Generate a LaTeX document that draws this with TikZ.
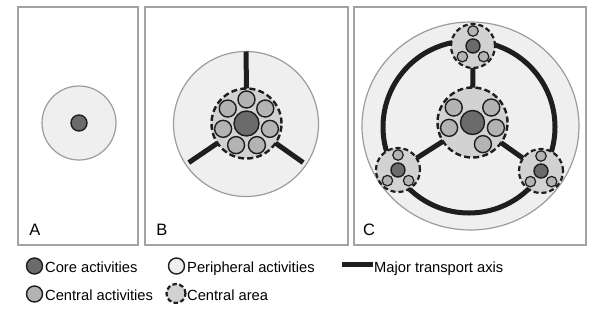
\documentclass[tikz,border=0pt]{standalone}
\usepackage{fontspec}
\setmainfont{Liberation Sans}
\usetikzlibrary{calc}
\definecolor{boxgray}{HTML}{A3A3A3}
\definecolor{outergray}{HTML}{9C9C9C}
\definecolor{areafill}{HTML}{EFEFEF}
\definecolor{cafill}{HTML}{D2D2D2}
\definecolor{centfill}{HTML}{B3B3B3}
\definecolor{corefill}{HTML}{6B6B6B}
\definecolor{ink}{HTML}{1E1E1E}
\begin{document}
\begin{tikzpicture}[x=1pt,y=-1pt,
  panel/.style={draw=boxgray,line width=1.6pt},
  outer/.style={circle,draw=outergray,fill=areafill,line width=1.2pt,inner sep=0pt,outer sep=0pt},
  carea/.style={circle,draw=ink,fill=cafill,dashed,dash pattern=on 6pt off 3.2pt,line width=2.4pt,inner sep=0pt,outer sep=0pt},
  centact/.style={circle,draw=ink,fill=centfill,line width=1.4pt,inner sep=0pt,outer sep=0pt},
  coreact/.style={circle,draw=ink,fill=corefill,line width=1.4pt,inner sep=0pt,outer sep=0pt},
  periact/.style={circle,draw=ink,fill=areafill,line width=1.4pt,inner sep=0pt,outer sep=0pt},
  axis/.style={draw=ink,line width=5pt},
  plabel/.style={font=\fontsize{16.5}{18}\selectfont,anchor=base,inner sep=0pt},
  legtext/.style={font=\fontsize{14.7}{17}\selectfont,anchor=base west,inner sep=0pt}
]
\useasboundingbox (0,0) rectangle (602,314);
\fill[white] (0,0) rectangle (602,314);

% panels
\draw[panel] (18,7) rectangle (138,245);
\draw[panel] (145,7) rectangle (348,245);
\draw[panel] (354,7) rectangle (586,245);
\node[plabel] (la) at (35,235) {A};
\node[plabel] (lb) at (162,235) {B};
\node[plabel] (lc) at (369,235) {C};

% panel A
\node[outer,minimum size=74pt] (aout) at (79,123) {};
\node[coreact,minimum size=16pt] (acore) at (79,123) {};

% panel B
\node[outer,minimum size=145pt] (bout) at (246,124) {};
\node[carea,minimum size=70pt] (bca) at (246.5,123.5) {};
\node[coreact,minimum size=25pt] (bcore) at (246.5,123.5) {};
\foreach \i in {0,...,6}{
  \node[centact,minimum size=17pt] (b\i) at ($(bcore.center)+(90-\i*51.43:24pt)$) {};
}
\coordinate (bsl) at ($(bout.center)+(214:69pt)$);
\coordinate (bsr) at ($(bout.center)+(-34:69pt)$);
\draw[axis] (bca.90) -- (bout.90);
\draw[axis] (bca.214) -- (bsl);
\draw[axis] (bca.-34) -- (bsr);

% panel C
\draw[draw=outergray,fill=areafill,line width=1.2pt] (470.5,126) circle[x radius=108.5pt,y radius=104pt];
\draw[axis] (469,127) circle[radius=86pt];
\node[carea,minimum size=70pt] (cca) at (472.5,122.5) {};
\node[coreact,minimum size=24pt] (ccore) at (472.5,122.5) {};
\foreach \i in {1,2,3,5,6}{
  \node[centact,minimum size=17pt] (c\i) at ($(ccore.center)+(90-\i*51.43:24pt)$) {};
}
\foreach \n/\x/\y in {st/473/46, sl/398/170, sr/541/171}{
  \node[carea,minimum size=44pt,dash pattern=on 5pt off 3pt,line width=2.2pt] (\n) at (\x,\y) {};
  \node[coreact,minimum size=14pt] (\n core) at (\x,\y) {};
  \foreach \a in {90,225,315}{
    \node[centact,minimum size=10.5pt,line width=1.2pt] (\n\a) at ($(\n core.center)+(\a:15pt)$) {};
  }
}
\draw[axis] (cca) -- (st);
\draw[axis] (cca) -- (sl);
\draw[axis] (cca) -- (sr);

% legend
\node[coreact,minimum size=16pt] (lg1) at (34.5,266) {};
\node[legtext] (lt1) at (45,272) {Core activities};
\node[periact,minimum size=16pt] (lg2) at (176.5,266) {};
\node[legtext] (lt2) at (187,272) {Peripheral activities};
\coordinate (lga) at (342,264.5);
\coordinate (lgb) at (373,264.5);
\draw[axis] (lga) -- (lgb);
\node[legtext] (lt3) at (374,272) {Major transport axis};
\node[centact,minimum size=16pt] (lg4) at (34.5,294) {};
\node[legtext] (lt4) at (45,300.5) {Central activities};
\node[carea,minimum size=19pt,dash pattern=on 4.5pt off 2.5pt,line width=2.2pt] (lg5) at (176,293.5) {};
\node[legtext] (lt5) at (187,300.5) {Central area};
\end{tikzpicture}
\end{document}
